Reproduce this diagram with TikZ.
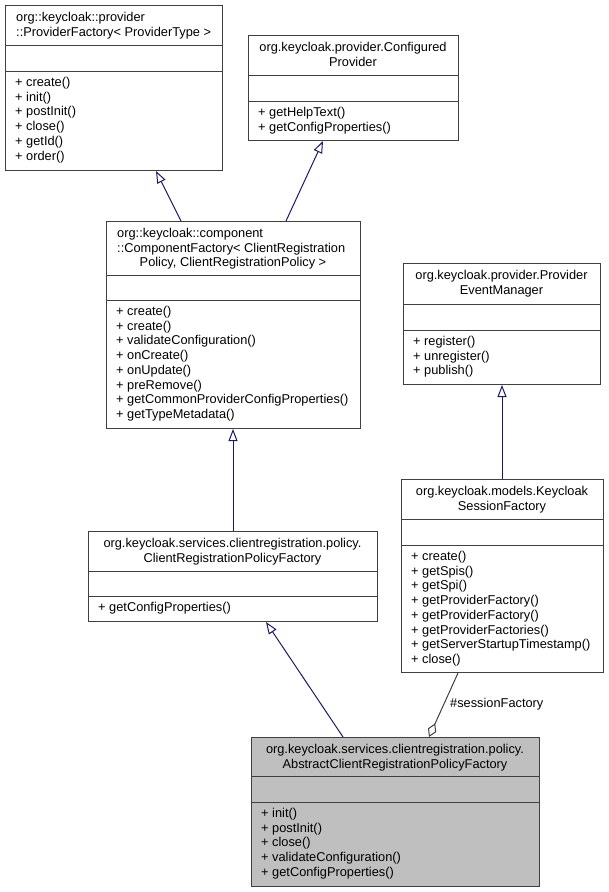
\documentclass[tikz,border=0pt]{standalone}
\usepackage{fontspec}
\setmainfont{Liberation Sans}
\usetikzlibrary{arrows.meta}
\definecolor{edgeblue}{HTML}{191970}
\definecolor{bordergray}{HTML}{404040}
\definecolor{boxfill}{HTML}{BFBFBF}
\tikzset{
  classbox/.style={draw=bordergray, line width=1pt, fill=white, rectangle, inner sep=0pt, anchor=north west},
  sepline/.style={draw=bordergray, line width=1pt},
  txt/.style={inner sep=0pt, font=\fontsize{12.8}{14.7}\selectfont, text=black},
  inh/.style={draw=edgeblue, line width=1pt, -{Triangle[open, length=12pt, width=9pt]}},
  agg/.style={draw=bordergray, line width=1pt, {Diamond[open, length=15pt, width=9pt]}-}
}
\begin{document}
\begin{tikzpicture}[x=1pt, y=-1pt]
\useasboundingbox (0,0) rectangle (609,892);
\fill[white] (0,0) rectangle (609,892);
% (multi-line nodes: anchor base = baseline of the last line)

% ---------- Box 1: ProviderFactory
\node[classbox, minimum width=217pt, minimum height=165pt] (b1) at (5,5) {};
\draw[sepline] (b1.west |- 0,45) -- (b1.east |- 0,45);
\draw[sepline] (b1.west |- 0,71) -- (b1.east |- 0,71);
\node[txt, align=left, anchor=base west] (b1t) at (16,36.2) {org::keycloak::provider\\::ProviderFactory< ProviderType >};
\node[txt, align=left, anchor=base west] (b1m) at (15,160) {+ create()\\+ init()\\+ postInit()\\+ close()\\+ getId()\\+ order()};

% ---------- Box 2: ConfiguredProvider
\node[classbox, minimum width=210pt, minimum height=105pt] (b2) at (248,35) {};
\draw[sepline] (b2.west |- 0,75) -- (b2.east |- 0,75);
\draw[sepline] (b2.west |- 0,101) -- (b2.east |- 0,101);
\node[txt, align=center, anchor=base] (b2t) at (353,66.2) {org.keycloak.provider.Configured\\Provider};
\node[txt, align=left, anchor=base west] (b2m) at (258,131.2) {+ getHelpText()\\+ getConfigProperties()};

% ---------- Box 3: ComponentFactory
\node[classbox, minimum width=254pt, minimum height=207pt] (b3) at (106,221) {};
\draw[sepline] (b3.west |- 0,275) -- (b3.east |- 0,275);
\draw[sepline] (b3.west |- 0,300) -- (b3.east |- 0,300);
\node[txt, align=left, anchor=base west] (b3t) at (117,252.2) {org::keycloak::component\\::ComponentFactory< ClientRegistration};
\node[txt, anchor=base] (b3t3) at (233,266.9) {Policy, ClientRegistrationPolicy >};
\node[txt, align=left, anchor=base west] (b3m) at (116,418.4) {+ create()\\+ create()\\+ validateConfiguration()\\+ onCreate()\\+ onUpdate()\\+ preRemove()\\+ getCommonProviderConfigProperties()\\+ getTypeMetadata()};

% ---------- Box 4: ProviderEventManager
\node[classbox, minimum width=197pt, minimum height=121pt] (b4) at (403,263) {};
\draw[sepline] (b4.west |- 0,304) -- (b4.east |- 0,304);
\draw[sepline] (b4.west |- 0,330) -- (b4.east |- 0,330);
\node[txt, align=center, anchor=base] (b4t) at (501.5,294.2) {org.keycloak.provider.Provider\\EventManager};
\node[txt, align=left, anchor=base west] (b4m) at (413,374.9) {+ register()\\+ unregister()\\+ publish()};

% ---------- Box 5: ClientRegistrationPolicyFactory
\node[classbox, minimum width=289pt, minimum height=90pt] (b5) at (88,531) {};
\draw[sepline] (b5.west |- 0,571) -- (b5.east |- 0,571);
\draw[sepline] (b5.west |- 0,596) -- (b5.east |- 0,596);
\node[txt, align=center, anchor=base] (b5t) at (232.5,562.2) {org.keycloak.services.clientregistration.policy.\\ClientRegistrationPolicyFactory};
\node[txt, align=left, anchor=base west] (b5m) at (98,611.5) {+ getConfigProperties()};

% ---------- Box 6: KeycloakSessionFactory
\node[classbox, minimum width=202pt, minimum height=193pt] (b6) at (401,479) {};
\draw[sepline] (b6.west |- 0,519) -- (b6.east |- 0,519);
\draw[sepline] (b6.west |- 0,545) -- (b6.east |- 0,545);
\node[txt, align=center, anchor=base] (b6t) at (502,510.2) {org.keycloak.models.Keycloak\\SessionFactory};
\node[txt, align=left, anchor=base west] (b6m) at (411,663.4) {+ create()\\+ getSpis()\\+ getSpi()\\+ getProviderFactory()\\+ getProviderFactory()\\+ getProviderFactories()\\+ getServerStartupTimestamp()\\+ close()};

% ---------- Box 7: AbstractClientRegistrationPolicyFactory
\node[classbox, fill=boxfill, minimum width=288pt, minimum height=149pt] (b7) at (251,737) {};
\draw[sepline] (b7.west |- 0,776) -- (b7.east |- 0,776);
\draw[sepline] (b7.west |- 0,802) -- (b7.east |- 0,802);
\node[txt, align=center, anchor=base] (b7t) at (395,768.2) {org.keycloak.services.clientregistration.policy.\\AbstractClientRegistrationPolicyFactory};
\node[txt, align=left, anchor=base west] (b7m) at (261,876.3) {+ init()\\+ postInit()\\+ close()\\+ validateConfiguration()\\+ getConfigProperties()};

% ---------- Connectors
\draw[inh] (181,0 |- b3.north) -- (156,0 |- b1.south);
\draw[inh] (286,0 |- b3.north) -- (323,0 |- b2.south);
\draw[inh] (233,0 |- b5.north) -- (233,0 |- b3.south);
\draw[inh] (502,0 |- b6.north) -- (502,0 |- b4.south);
\draw[inh] (343,0 |- b7.north) -- (266,0 |- b5.south);
\draw[agg] (429,0 |- b7.north) -- (458,0 |- b6.south);
\node[txt, anchor=base west] (lbl) at (450,707.5) {\#sessionFactory};
\end{tikzpicture}
\end{document}
